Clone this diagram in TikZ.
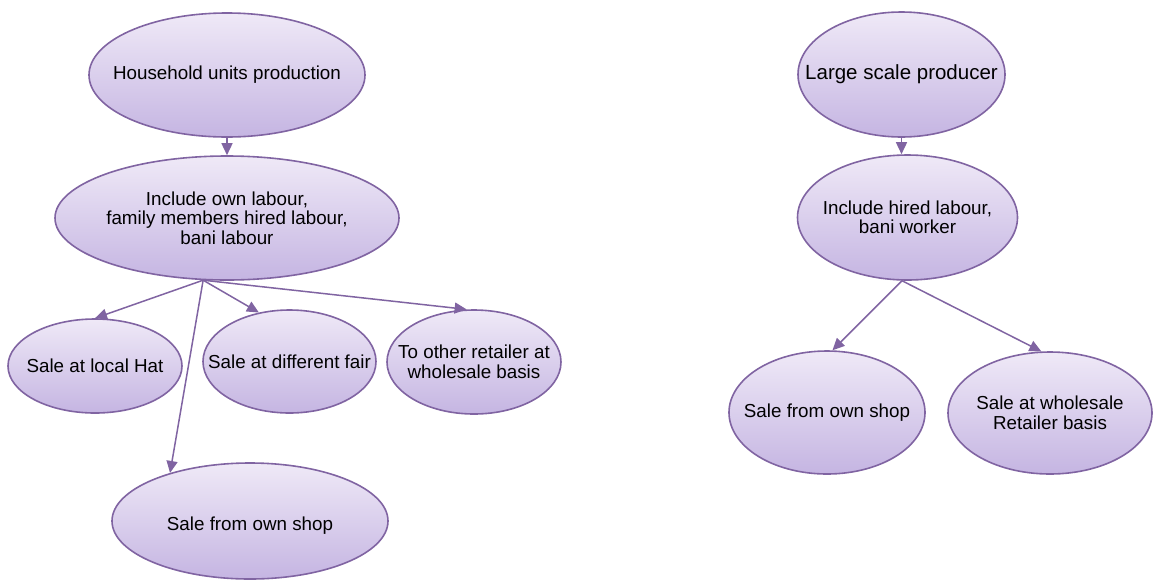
\documentclass[tikz,border=0pt]{standalone}
\usepackage{fontspec}
\setmainfont{Liberation Sans}
\usetikzlibrary{shapes.geometric,arrows.meta}
\definecolor{bubbleline}{RGB}{128,100,162}
\definecolor{bubbletop}{RGB}{239,233,247}
\definecolor{bubblebot}{RGB}{197,181,226}

\begin{document}
\begin{tikzpicture}[x=1pt,y=1pt]
	\tikzstyle{every node}+=[inner sep=0pt]
	\tikzstyle{bubble}=[ellipse, draw=bubbleline, line width=1.6pt, top color=bubbletop, bottom color=bubblebot]
	\tikzstyle{txt}=[align=center, font=\fontsize{18.8}{19.5}\selectfont]
	\tikzstyle{link}=[draw=bubbleline, line width=1.5pt, -{Triangle[length=12pt,width=11pt]}]
	\useasboundingbox (0,0) rectangle (1154,-582);
	% household side
	\node [bubble, minimum width=276pt, minimum height=124pt] (hh) at (227,-75) {};
	\node [txt] (hhtext) at (hh) {Household units production};
	\node [bubble, minimum width=344pt, minimum height=124pt] (inc) at (227,-218) {};
	\node [txt] (inctext) at (inc) {Include own labour,\\family members hired labour,\\bani labour};
	\node [bubble, minimum width=174pt, minimum height=94pt] (hat) at (95,-366) {};
	\node [txt] (hattext) at (hat) {Sale at local Hat};
	\node [bubble, minimum width=173pt, minimum height=103pt] (fair) at (289.5,-361.5) {};
	\node [txt] (fairtext) at (fair) {Sale at different fair};
	\node [bubble, minimum width=174pt, minimum height=104pt] (ret) at (474,-362) {};
	\node [txt] (rettext) at (ret) {To other retailer at\\wholesale basis};
	\node [bubble, minimum width=276pt, minimum height=116pt] (shopl) at (250,-521) {};
	\node [txt, yshift=-5pt] (shopltext) at (shopl) {Sale from own shop};
	\draw [link] (hh.south) -- (inc.north);
	\coordinate (fan) at (inc.249);
	\draw [link] (fan) -- (hat.north);
	\draw [link] (fan) -- (fair.122);
	\draw [link] (fan) -- (ret.98);
	\draw [link] (fan) -- (shopl.149);
	% large scale side
	\node [bubble, minimum width=207pt, minimum height=125pt] (large) at (901.5,-74.5) {};
	\node [txt, font=\fontsize{20.5}{22}\selectfont] (largetext) at (large) {Large scale producer};
	\node [bubble, minimum width=220pt, minimum height=125pt] (hired) at (907.5,-217.5) {};
	\node [txt] (hiredtext) at (hired) {Include hired labour,\\bani worker};
	\node [bubble, minimum width=196pt, minimum height=123pt] (shopr) at (827,-412.5) {};
	\node [txt] (shoprtext) at (shopr) {Sale from own shop};
	\node [bubble, minimum width=204pt, minimum height=122pt] (whr) at (1050,-413) {};
	\node [txt] (whrtext) at (whr) {Sale at wholesale\\Retailer basis};
	\draw [link] (large.south) -- (large.south |- hired.north);
	\coordinate (fork) at (hired.265);
	\draw [link] (fork) -- (shopr.85);
	\draw [link] (fork) -- (whr.98);
\end{tikzpicture}
\end{document}
